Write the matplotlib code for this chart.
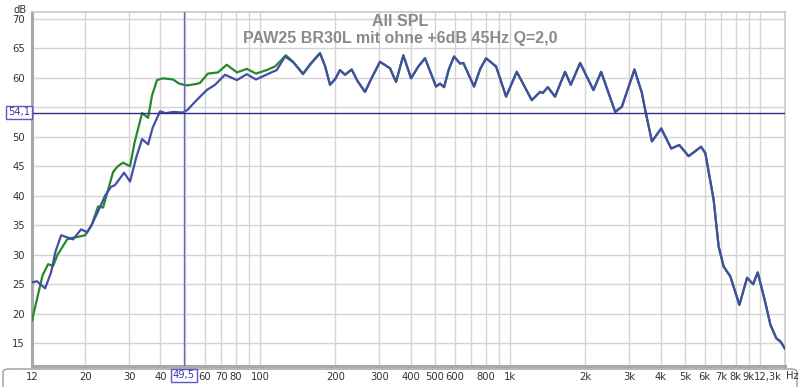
import matplotlib
matplotlib.use('Agg')
import matplotlib.pyplot as plt
from matplotlib.patches import FancyBboxPatch

# low end, "ohne" trace (blue) before it joins the boosted one
freq_ohne = [12.25, 12.83, 13.82, 14.6, 15.2, 16.02, 16.8, 17.89, 19.26, 20.35,
             21.2, 22.94, 24.0, 25.37, 26.3, 28.6, 30.22, 32.0, 33.76, 35.68,
             37.2, 39.82, 42.0, 45.0, 49.2, 51.5, 54.9, 61.2, 66.1, 72.4,
             80.9, 88.5, 96.4, 109.7, 116.7, 126.0, 136.0, 148.6, 160.0, 173.8]
spl_ohne = [25.3, 25.5, 24.3, 27.0, 30.5, 33.3, 33.0, 32.6, 34.3, 33.8,
            35.0, 38.1, 40.0, 41.5, 41.8, 43.9, 42.4, 46.5, 49.6, 48.7,
            51.5, 54.3, 54.0, 54.2, 54.1, 54.6, 55.9, 57.9, 58.8, 60.5,
            59.6, 60.6, 59.7, 60.8, 61.3, 63.6, 62.6, 60.6, 62.4, 64.1]

# low end, "mit +6dB 45Hz" trace (green)
freq_mit = [12.25, 12.83, 13.5, 14.21, 14.88, 15.5, 16.93, 17.89, 19.08, 19.98,
            20.35, 21.2, 22.52, 23.58, 24.5, 25.84, 27.0, 28.33, 30.22, 31.5,
            33.76, 35.68, 37.0, 38.74, 41.0, 44.89, 47.5, 50.9, 54.9, 57.5,
            61.9, 67.9, 73.6, 80.9, 88.5, 96.4, 106.4, 114.8, 120.5, 126.8,
            135.0, 148.6, 160.0, 173.8]
spl_mit = [18.9, 22.5, 26.5, 28.4, 28.1, 30.0, 32.6, 32.9, 33.1, 33.3,
           33.8, 35.0, 38.2, 38.0, 40.5, 44.0, 45.0, 45.6, 45.0, 49.0,
           54.0, 53.2, 57.0, 59.6, 59.9, 59.7, 59.0, 58.7, 58.9, 59.1,
           60.7, 60.9, 62.2, 60.9, 61.5, 60.7, 61.3, 61.9, 62.8, 63.8,
           62.8, 60.7, 62.5, 64.2]

# above ~175 Hz both traces are identical
freq_common = [182, 190.6, 200, 209, 218.8, 232.7, 245, 263, 280, 301.9,
               331.1, 350, 374.4, 401.9, 429.8, 457.2, 480, 506, 525, 544.7,
               570, 597.3, 631.2, 650.7, 718, 760, 802.2, 879.6, 964.5, 1064,
               1222, 1319, 1352, 1416, 1514, 1660, 1750, 1907, 2156, 2315,
               2634, 2802, 3146, 3369, 3473, 3695, 4025, 4414, 4753, 5180,
               5810, 6044, 6522, 6830, 7152, 7608, 8267, 8877, 9382, 9788,
               10510, 11005, 11630, 12070, 12560]
spl_common = [62.0, 58.8, 59.8, 61.3, 60.5, 61.4, 59.5, 57.6, 60.0, 62.7,
              61.6, 59.3, 63.8, 59.9, 61.9, 63.3, 61.0, 58.5, 59.0, 58.4,
              61.5, 63.6, 62.4, 62.5, 58.5, 61.5, 63.3, 61.9, 56.8, 61.0,
              56.2, 57.6, 57.4, 58.4, 56.8, 61.0, 58.8, 62.5, 57.9, 61.0,
              54.2, 55.1, 61.4, 57.4, 54.5, 49.2, 51.4, 48.0, 48.6, 46.7,
              48.3, 47.2, 39.3, 31.4, 28.0, 26.3, 21.5, 26.1, 25.0, 27.0,
              21.8, 18.1, 15.8, 15.3, 14.1]

grid_freqs = [20, 30, 40, 50, 60, 70, 80, 90, 100, 200, 300, 400, 500, 600, 700,
              800, 900, 1000, 2000, 3000, 4000, 5000, 6000, 7000, 8000, 9000, 10000]
xtick_pos = [12.25, 20, 30, 40, 60, 70, 80, 100, 200, 300, 400, 500, 600, 800,
             1000, 2000, 3000, 4000, 5000, 6000, 7000, 8000, 9000, 10700]
xtick_lbl = ['12', '20', '30', '40', '60', '70', '80', '100', '200', '300', '400',
             '500', '600', '800', '1k', '2k', '3k', '4k', '5k', '6k', '7k', '8k',
             '9k', '12,3k']
ytick_pos = [15, 20, 25, 30, 35, 40, 45, 50, 60, 65, 70]

cursor_f = 49.5
cursor_db = 54.1

fig = plt.figure(figsize=(8, 3.87), dpi=100)
ax = fig.add_axes([0.04, 0.0543, 0.941, 0.9147])
ax.set_xscale('log')
ax.set_xlim(12.25, 12560)
ax.set_ylim(11.14, 71.14)

for f in grid_freqs:
    ax.axvline(f, color='#d4d4d4', lw=1, zorder=0)
for v in range(15, 71, 5):
    ax.axhline(v, color='#d4d4d4', lw=1, zorder=0)

ax.plot(freq_mit + freq_common, spl_mit + spl_common, color='#23892a', lw=1.6,
        solid_joinstyle='round', zorder=3)
ax.plot(freq_ohne + freq_common, spl_ohne + spl_common, color='#444ea6', lw=1.6,
        solid_joinstyle='round', zorder=4)

ax.axvline(cursor_f, color='#6464c4', lw=1, zorder=5)
ax.axhline(cursor_db, color='#2e2e86', lw=1, zorder=5)

ax.set_xticks(xtick_pos)
ax.set_xticklabels(xtick_lbl)
ax.xaxis.set_minor_locator(matplotlib.ticker.NullLocator())
ax.set_yticks(ytick_pos)
ax.tick_params(length=0, labelsize=7.2, colors='#333333', pad=4)
ax.tick_params(axis='y', pad=5)

for s in ['left', 'bottom']:
    ax.spines[s].set_color('#a8a8a8')
    ax.spines[s].set_linewidth(2.2)
for s in ['top', 'right']:
    ax.spines[s].set_color('#c8c8c8')
    ax.spines[s].set_linewidth(1.2)

fig.text(20 / 800, 1 - 10 / 387, 'dB', fontsize=7.2, color='#333333',
         ha='center', va='center')
fig.text(799 / 800, 1 - 376 / 387, 'Hz', fontsize=7.2, color='#333333',
         ha='right', va='center')

title_kw = dict(ha='center', va='center', color='#8a8a8a', fontsize=11.5,
                fontweight='bold', family='Liberation Sans')
fig.text(400 / 800, 1 - 21 / 387, 'All SPL', **title_kw)
fig.text(400 / 800, 1 - 39 / 387, 'PAW25 BR30L mit ohne +6dB 45Hz Q=2,0', **title_kw)

box_kw = dict(boxstyle='square,pad=0.15', fc='white', ec='#5a5ac0', lw=1)
fig.text(19 / 800, 1 - 112.5 / 387, '54,1', fontsize=7.2, color='#3a3aa8',
         ha='center', va='center', bbox=box_kw, zorder=10)
fig.text(184 / 800, 1 - 375 / 387, '49,5', fontsize=7.2, color='#3a3aa8',
         ha='center', va='center', bbox=box_kw, zorder=10)

# panel edge peeking in below the plot
panel = FancyBboxPatch((3 / 800, -20 / 387), 794 / 800, 38 / 387,
                       boxstyle='round,pad=0,rounding_size=0.008',
                       transform=fig.transFigure, fc='none', ec='#9a9a9a', lw=1)
fig.patches.append(panel)

fig.savefig('out.png', dpi=100)
